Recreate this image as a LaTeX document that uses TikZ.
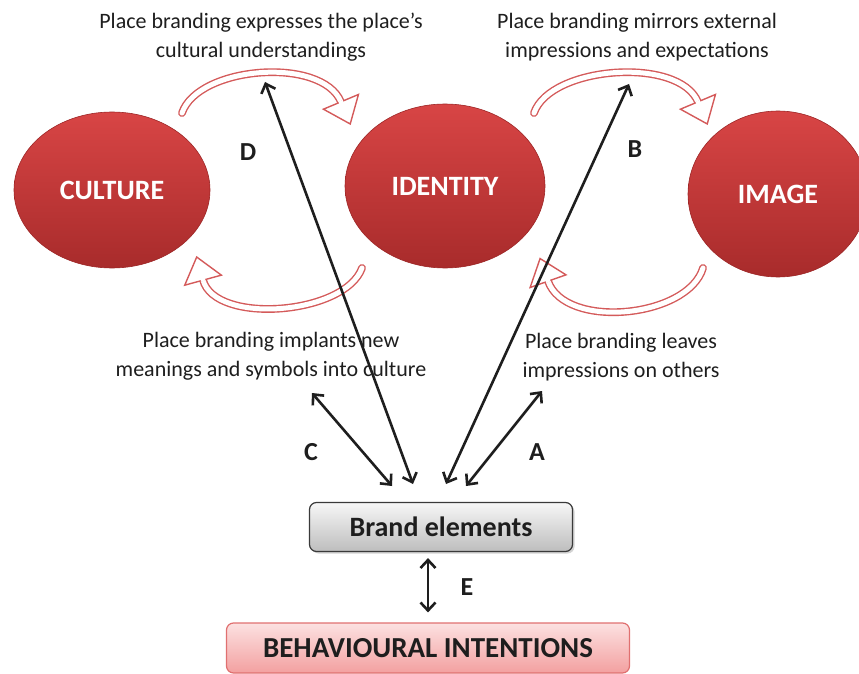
\documentclass[tikz,border=0pt]{standalone}
\usepackage{fontspec}
\setmainfont{Carlito}
\usepackage{tikz}
\usetikzlibrary{arrows.meta,shapes.geometric,shadows,decorations.markings}
\definecolor{ovaltop}{HTML}{D84545}
\definecolor{ovalbot}{HTML}{A82B2B}
\definecolor{ovaledge}{HTML}{9C2525}
\definecolor{ringred}{HTML}{D45A5A}
\definecolor{ink}{HTML}{1E1E1E}
\definecolor{boxtop}{HTML}{F7F7F7}
\definecolor{boxbot}{HTML}{BDBDBD}
\definecolor{boxedge}{HTML}{3A3A3A}
\definecolor{pinktop}{HTML}{FCE1E1}
\definecolor{pinkbot}{HTML}{F3A0A0}
\definecolor{pinkedge}{HTML}{E07070}
\tikzset{
  oval/.style={ellipse, top color=ovaltop, bottom color=ovalbot, draw=ovaledge, line width=0.6pt, inner sep=0pt, text=white, font=\fontsize{28}{30}\selectfont\bfseries},
  ring/.style={draw=ringred, line width=1.4pt, double=white, double distance=5pt, line cap=round},
  ringhead/.style={decoration={markings, mark=at position 0.999 with {
      \draw[draw=ringred, line width=1.4pt, fill=white, line join=miter] (0,-19pt) -- (24pt,0) -- (0,19pt) -- cycle;
      \draw[white, line width=4.6pt] (-1pt,0) -- (1.5pt,0);}}, postaction={decorate}},
  link/.style={draw=ink, line width=2.6pt, {Straight Barb[length=8pt,width=15pt]}-{Straight Barb[length=8pt,width=15pt]}},
  note/.style={text=ink, align=center, font=\fontsize{22}{29}\selectfont},
  tag/.style={text=ink, font=\fontsize{26}{28}\selectfont\bfseries},
  brandbox/.style={draw=boxedge, line width=1.2pt, rounded corners=7pt, top color=boxtop, bottom color=boxbot, minimum width=263pt, minimum height=49pt, text=ink, font=\fontsize{28}{30}\selectfont\bfseries, drop shadow={opacity=0.35, shadow xshift=2pt, shadow yshift=-2pt}},
  intentbox/.style={draw=pinkedge, line width=1.2pt, rounded corners=7pt, top color=pinktop, bottom color=pinkbot, minimum width=403pt, minimum height=50pt, text=ink, font=\fontsize{29}{31}\selectfont\bfseries},
}
\begin{document}
\begin{tikzpicture}[x=1pt, y=-1pt]
  \useasboundingbox (0,0) rectangle (859,674);

  % ovals
  \node[oval, minimum width=196pt, minimum height=156pt] (culture) at (112,190) {CULTURE};
  \node[oval, minimum width=200pt, minimum height=164pt] (identity) at (445,186) {IDENTITY};
  \node[oval, minimum width=180pt, minimum height=166pt] (image) at (778,194) {IMAGE};

  % hollow turning arrows, top row
  \draw[ring] (182,113) .. controls (198,66) and (322,56) .. (341,102);
  \path[ringhead] (182,113) .. controls (198,66) and (322,56) .. (341,102);
  \draw[ring] (534,113) .. controls (550,66) and (679,56) .. (698,102);
  \path[ringhead] (534,113) .. controls (550,66) and (679,56) .. (698,102);

  % hollow turning arrows, bottom row
  \draw[ring] (362,268) .. controls (345,315) and (215,325) .. (203,280);
  \path[ringhead] (362,268) .. controls (345,315) and (215,325) .. (203,280);
  \draw[ring] (703,268) .. controls (688,318) and (565,330) .. (548,281);
  \path[ringhead] (703,268) .. controls (688,318) and (565,330) .. (548,281);

  % texts
  \node[note] (txtD) at (261,37) {Place branding expresses the place's\\cultural understandings};
  \node[note] (txtB) at (637,37) {Place branding mirrors external\\impressions and expectations};
  \node[note] (txtC) at (271,356) {Place branding implants new\\meanings and symbols into culture};
  \node[note] (txtA) at (621,357) {Place branding leaves\\impressions on others};

  % boxes
  \node[brandbox] (brand) at (441,527) {Brand elements};
  \node[intentbox] (intent) at (428,648) {BEHAVIOURAL INTENTIONS};

  % arrow ends
  \coordinate (cLow) at (392,486);
  \coordinate (cTop) at (312,393);
  \coordinate (dLow) at (413,484);
  \coordinate (dTop) at (265,82);
  \coordinate (bLow) at (446,484);
  \coordinate (bTop) at (629,84);
  \coordinate (aLow) at (466,486);
  \coordinate (aTop) at (542,391);

  \draw[link] (cLow) -- (cTop);
  \draw[link] (dLow) -- (dTop);
  \draw[link] (bLow) -- (bTop);
  \draw[link] (aLow) -- (aTop);
  \draw[link] ([yshift=-6pt]brand.south -| intent.north) -- ([yshift=10pt]intent.north);

  % letters
  \node[tag] (labD) at (248,152) {D};
  \node[tag] (labB) at (635,149) {B};
  \node[tag] (labC) at (311,452) {C};
  \node[tag] (labA) at (537,452) {A};
  \node[tag] (labE) at (467,587) {E};
\end{tikzpicture}
\end{document}
